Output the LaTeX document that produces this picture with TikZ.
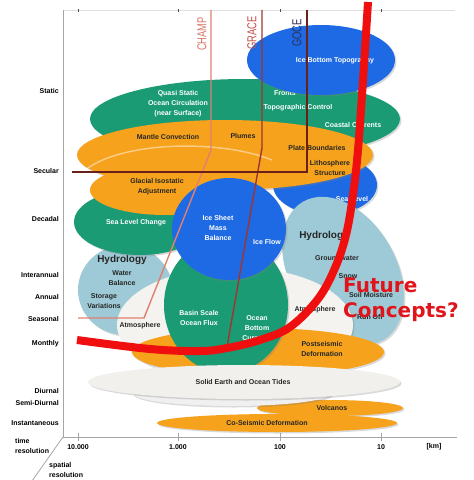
\documentclass[tikz,border=0pt]{standalone}
\usepackage{fontspec}
\setmainfont{Liberation Sans}
\newfontfamily\futfont{DejaVu Sans}
\usepackage{tikz}
\usetikzlibrary{shadows}
\definecolor{oceanG}{HTML}{1A9B74}
\definecolor{solidO}{HTML}{F6A21C}
\definecolor{iceB}{HTML}{1E6AE4}
\definecolor{hydroB}{HTML}{9DCAD6}
\definecolor{atmoW}{HTML}{F4F3EF}
\definecolor{tideW}{HTML}{F1F0EC}
\definecolor{champC}{HTML}{E0806E}
\definecolor{graceC}{HTML}{A03430}
\definecolor{goceC}{HTML}{6A2016}
\definecolor{champT}{HTML}{D9766A}
\definecolor{graceT}{HTML}{C0504A}
\definecolor{goceT}{HTML}{2E2D5A}
\definecolor{futR}{HTML}{F00F0F}
\definecolor{futT}{HTML}{E0141B}

\begin{document}
\begin{tikzpicture}[yscale=-1, x=1pt, y=1pt,
  lbl/.style={font=\fontsize{7}{10}\selectfont\bfseries, align=center, inner sep=0pt},
  wlbl/.style={lbl, text=white},
  dlbl/.style={lbl, text=black!85},
  hlbl/.style={font=\fontsize{10}{11}\selectfont\bfseries, text=black!85, inner sep=0pt},
  axlbl/.style={font=\fontsize{7}{10}\selectfont\bfseries, inner sep=0pt},
  shd/.style={drop shadow={opacity=0.3, shadow xshift=1.5pt, shadow yshift=-1.5pt}},
  mission/.style={font=\fontsize{13}{13}\selectfont, rotate=90, xscale=0.72, inner sep=0pt},
  futlbl/.style={font=\futfont\bfseries\fontsize{20}{25}\selectfont, text=futT, inner sep=0pt, anchor=base west}]
\useasboundingbox (0,0) rectangle (474,480);
% axes
\draw[gray!25] (63,10) -- (455,10);
\draw[gray!70, thick] (63,10) -- (63,437) -- (457,437);
\draw[gray!70, thick] (63,437) -- (32,481);
\foreach \x in {78,178,280,381} {\draw[gray!70, thick] (\x,433) -- (\x,441); \draw[black!70] (\x,9) -- (\x,12);}
\foreach \x/\t/\n in {78/10.000/k4, 178/1.000/k3, 280/100/k2, 381/10/k1, 434/[km]/km}
  \node[axlbl] (\n) at (\x,447) {\t};
\foreach \y/\t/\n in {91/Static/st, 171/Secular/sec, 219/Decadal/dec, 275/Interannual/ia, 297/Annual/an, 319/Seasonal/sea, 344/Monthly/mo, 391/Diurnal/di, 403/Semi-Diurnal/sd, 423/Instantaneous/ins}
  \node[axlbl, anchor=east] (\n) at (59,\y) {\t};
\node[axlbl, align=left, anchor=west] (tres) at (15,446) {time\\resolution};
\node[axlbl, align=left, anchor=west] (sres) at (49,470) {spatial\\resolution};

% static ocean and ice
\fill[oceanG, shd] (245,119) ellipse (155 and 40);
\node[wlbl] (qs) at (178,104) {Quasi Static\\Ocean Circulation\\(near Surface)};
\node[wlbl] (fr) at (285,93) {Fronts};
\node[wlbl] (tc) at (298,108) {Topographic Control};
\node[wlbl] (cc) at (353,125) {Coastal Currents};
\fill[iceB, shd] (321,60) ellipse (74 and 35);
\node[wlbl] (ibt) at (335,61) {Ice Bottom Topography};
\fill[iceB, shd] (325,185) ellipse (52 and 30);
\node[wlbl] (sl) at (352,199) {Sea Level};

% hydrology
\fill[hydroB, shd, rotate around={60:(343,271)}] (343,271) ellipse (80 and 53);
\node[hlbl] (hyr) at (324,236) {Hydrology};
\node[dlbl] (gw) at (337,258) {Groundwater};
\node[dlbl] (sn) at (348,276) {Snow};
\node[dlbl] (sm) at (371,295) {Soil Moisture};
\node[dlbl] (ro) at (370,317) {Run Off};
\fill[hydroB, shd] (125,290) ellipse (47 and 45);
\node[hlbl] (hyl) at (122,260) {Hydrology};
\node[dlbl] (wb) at (122,278) {Water\\Balance};
\node[dlbl] (sv) at (104,301) {Storage\\Variations};
\fill[oceanG, shd] (140,222) ellipse (66 and 33);
\node[wlbl] (slc) at (136,223) {Sea Level Change};

% solid earth
\fill[solidO, shd] (225,155) ellipse (148 and 35);
\fill[solidO] (165,190) ellipse (75 and 25);
\draw[white, opacity=0.45, line width=1.5pt] (84,171) .. controls (120,141) and (220,139) .. (272,160);
\node[dlbl] (mc) at (168,137) {Mantle Convection};
\node[dlbl] (pl) at (243,136) {Plumes};
\node[dlbl] (pb) at (317,148) {Plate Boundaries};
\node[dlbl] (ls) at (330,168) {Lithosphere\\Structure};
\node[dlbl] (gia) at (157,187) {Glacial Isostatic\\Adjustment};

% atmosphere, ocean flux, ice sheet
\fill[atmoW, shd] (235,325) ellipse (118 and 58);
\node[dlbl] (atl) at (140,326) {Atmosphere};
\node[dlbl] (atr) at (315,310) {Atmosphere};
\fill[solidO, shd] (258,352) ellipse (126 and 24);
\node[dlbl] (psd) at (322,349) {Postseismic\\Deformation};
\fill[oceanG, shd] (226,305) ellipse (62 and 68);
\node[wlbl] (bso) at (199,318) {Basin Scale\\Ocean Flux};
\node[wlbl] (obc) at (257,328) {Ocean\\Bottom\\Currents};
\fill[iceB, shd] (229,229) ellipse (57 and 51);
\node[wlbl] (ismb) at (218,228) {Ice Sheet\\Mass\\Balance};
\node[wlbl] (ifl) at (267,242) {Ice Flow};

% short time scales
\fill[solidO, shd] (330,408) ellipse (73 and 8);
\fill[gray!12, shd] (232,393) ellipse (100 and 13);
\fill[tideW, shd] (244,382) ellipse (156 and 17);
\node[dlbl] (tid) at (243,382) {Solid Earth and Ocean Tides};
\node[dlbl] (vol) at (332,408) {Volcanos};
\fill[solidO, shd] (277,423) ellipse (120 and 9);
\node[dlbl] (csd) at (267,423) {Co-Seismic Deformation};

% missions
\draw[champC, line width=1.4pt] (211,10) -- (211,150) -- (144,318) -- (78,318);
\draw[graceC, line width=1.4pt] (262,10) -- (262,148) -- (227,347);
\draw[goceC, line width=1.6pt] (307,10) -- (307,172) -- (72,172);
\node[mission, text=champT] (champ) at (202,34) {CHAMP};
\node[mission, text=graceT] (grace) at (252,33) {GRACE};
\node[mission, text=goceT] (goce) at (297,33) {GOCE};

% future concepts
\draw[futR, line width=8pt] plot[smooth, tension=0.6] coordinates {(77,340) (150,349) (200,351) (227,348) (260,340) (290,327) (318,299) (335,268) (346,235) (353,195) (358,150) (363,80) (368,2)};
\node[futlbl] (fut1) at (343,292) {Future};
\node[futlbl] (fut2) at (343,317) {Concepts?};
\end{tikzpicture}
\end{document}
